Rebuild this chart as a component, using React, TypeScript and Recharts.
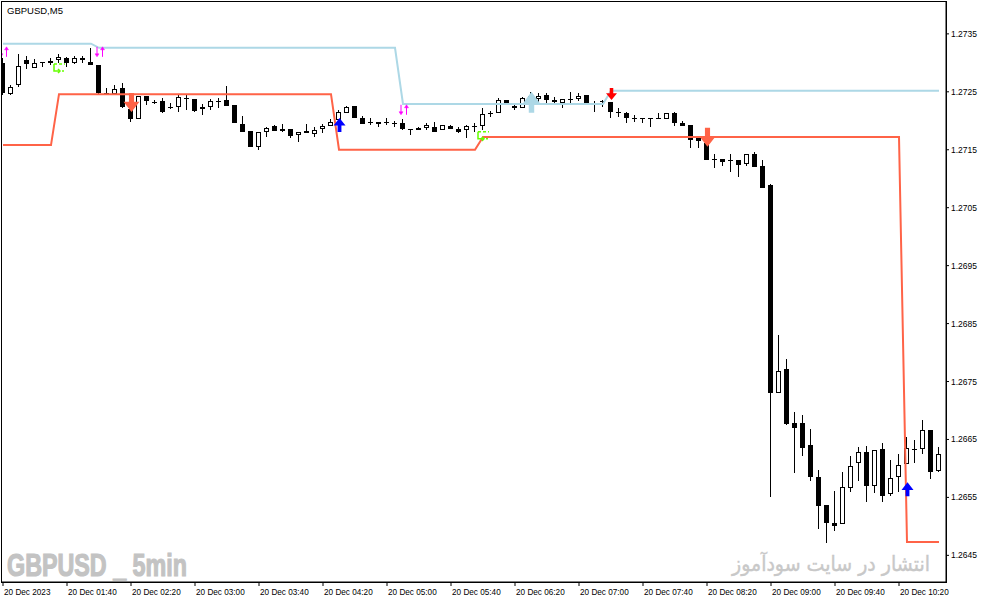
import React from "react";
import {
  ComposedChart,
  Bar,
  Line,
  Scatter,
  XAxis,
  YAxis,
} from "recharts";

// 5-minute candles, 20 Dec 01:00 .. 10:45 (index 0 = 01:00)
const opens = [
  1.273, 1.27246, 1.27262, 1.27305, 1.27291, 1.27302, 1.27303, 1.27305, 1.27309, 1.273,
  1.27309, 1.27302, 1.27296, 1.27248, 1.27246, 1.27257, 1.2722, 1.27203, 1.27243, 1.27233,
  1.27234, 1.27224, 1.27224, 1.27239, 1.27238, 1.2722, 1.27224, 1.27234, 1.27236, 1.27227,
  1.27195, 1.27182, 1.27155, 1.27181, 1.27191, 1.27186, 1.27186, 1.27176, 1.27182, 1.27177,
  1.27186, 1.27191, 1.27201, 1.27214, 1.27226, 1.27205, 1.27198, 1.27198, 1.27198, 1.27196,
  1.27196, 1.27186, 1.27188, 1.27188, 1.27189, 1.27184, 1.27191, 1.27186, 1.27184, 1.27191,
  1.27191, 1.27214, 1.27214, 1.27236, 1.27226, 1.27222, 1.27243, 1.27238, 1.27245, 1.27236,
  1.27231, 1.27238, 1.27238, 1.27245, 1.27229, 1.27233, 1.27233, 1.27215, 1.27214, 1.27205,
  1.27205, 1.27203, 1.27205, 1.27203, 1.27214, 1.27196, 1.27193, 1.2717, 1.27162, 1.27134,
  1.27134, 1.27132, 1.27132, 1.27125, 1.27143, 1.27122, 1.27089, 1.2673, 1.26771, 1.26678,
  1.26678, 1.2664, 1.26585, 1.26537, 1.26506, 1.26504, 1.26566, 1.26609, 1.26628, 1.26569,
  1.26633, 1.26556, 1.26585, 1.26607, 1.26632, 1.26633, 1.26666, 1.26595,
];
const highs = [
  1.27309, 1.27262, 1.27315, 1.27312, 1.27307, 1.27302, 1.27309, 1.27315, 1.2731, 1.27312,
  1.27312, 1.27326, 1.27296, 1.27257, 1.27262, 1.27265, 1.27222, 1.27243, 1.27243, 1.27236,
  1.27239, 1.27231, 1.27245, 1.27245, 1.27238, 1.27229, 1.27238, 1.27239, 1.2726, 1.27227,
  1.27208, 1.27182, 1.27181, 1.27189, 1.27193, 1.27195, 1.27186, 1.27181, 1.27195, 1.27189,
  1.27195, 1.27203, 1.27219, 1.27226, 1.27226, 1.27208, 1.27205, 1.27198, 1.27205, 1.272,
  1.27203, 1.27186, 1.27189, 1.27196, 1.27198, 1.27193, 1.27193, 1.27189, 1.27193, 1.27196,
  1.27222, 1.27217, 1.27239, 1.27236, 1.27231, 1.27241, 1.2725, 1.27248, 1.27248, 1.27241,
  1.27238, 1.2725, 1.27248, 1.27245, 1.27234, 1.27236, 1.27233, 1.27222, 1.27215, 1.2721,
  1.27205, 1.27205, 1.27214, 1.27214, 1.27215, 1.272, 1.27193, 1.27174, 1.27165, 1.27143,
  1.27134, 1.27143, 1.27132, 1.27143, 1.27146, 1.27132, 1.27091, 1.2683, 1.26789, 1.26697,
  1.26692, 1.26668, 1.26597, 1.26537, 1.26561, 1.26594, 1.26621, 1.26637, 1.26638, 1.26632,
  1.26644, 1.26614, 1.26625, 1.26654, 1.26649, 1.26683, 1.26666, 1.26637,
];
const lows = [
  1.27245, 1.27245, 1.27258, 1.2729, 1.27291, 1.27293, 1.27296, 1.273, 1.27293, 1.27298,
  1.273, 1.27296, 1.27246, 1.27245, 1.27246, 1.27222, 1.27198, 1.27203, 1.27227, 1.27229,
  1.27214, 1.2722, 1.27215, 1.27219, 1.27215, 1.2721, 1.27219, 1.27222, 1.27226, 1.27196,
  1.27181, 1.27155, 1.2715, 1.27172, 1.27182, 1.27181, 1.2717, 1.27163, 1.27179, 1.27172,
  1.27179, 1.27191, 1.27196, 1.27214, 1.27205, 1.27195, 1.27193, 1.27189, 1.27193, 1.27189,
  1.27184, 1.27176, 1.27184, 1.27184, 1.27181, 1.27184, 1.27186, 1.27179, 1.2717, 1.27181,
  1.27184, 1.27207, 1.27214, 1.27227, 1.27219, 1.27222, 1.27238, 1.27233, 1.27231, 1.27231,
  1.27222, 1.27227, 1.27234, 1.27229, 1.27215, 1.27224, 1.27205, 1.27207, 1.27196, 1.27198,
  1.27196, 1.27189, 1.27205, 1.27203, 1.27191, 1.27191, 1.27153, 1.27153, 1.27132, 1.27119,
  1.27122, 1.27112, 1.27103, 1.27122, 1.2712, 1.27084, 1.2655, 1.2673, 1.26675, 1.26592,
  1.26621, 1.26578, 1.26495, 1.26471, 1.26492, 1.26504, 1.26559, 1.26578, 1.26542, 1.26557,
  1.26542, 1.26552, 1.26559, 1.26607, 1.26609, 1.26625, 1.26581, 1.26594,
];
const closes = [
  1.27248, 1.27258, 1.27295, 1.27298, 1.273, 1.27302, 1.273, 1.2731, 1.273, 1.27309,
  1.27305, 1.27296, 1.27248, 1.27248, 1.27255, 1.27224, 1.27203, 1.27243, 1.27234, 1.27233,
  1.27215, 1.27224, 1.27241, 1.27239, 1.27217, 1.27224, 1.27234, 1.27234, 1.27226, 1.27196,
  1.27181, 1.27155, 1.27181, 1.27188, 1.27182, 1.27182, 1.27174, 1.27181, 1.27179, 1.27184,
  1.27191, 1.27198, 1.27215, 1.27224, 1.27205, 1.27195, 1.27198, 1.27195, 1.27196, 1.27196,
  1.27186, 1.27186, 1.27184, 1.27193, 1.27181, 1.27193, 1.27186, 1.27181, 1.27191, 1.27191,
  1.27212, 1.27214, 1.27236, 1.27227, 1.27222, 1.27239, 1.27243, 1.27243, 1.27236, 1.27233,
  1.27238, 1.27238, 1.27243, 1.27229, 1.27229, 1.27234, 1.27215, 1.27215, 1.27205, 1.27205,
  1.27205, 1.27205, 1.27205, 1.27214, 1.27196, 1.27191, 1.27167, 1.27165, 1.27132, 1.27134,
  1.27129, 1.27132, 1.27124, 1.27143, 1.2712, 1.27084, 1.2673, 1.26768, 1.26677, 1.2667,
  1.26635, 1.26585, 1.26535, 1.26506, 1.265, 1.26568, 1.26604, 1.26628, 1.26569, 1.26632,
  1.26552, 1.26583, 1.26606, 1.26635, 1.26633, 1.26666, 1.26594, 1.26625,
];

// indicator lines: vertices where the level changes
const upperLine = [
  { i: 0, p: 1.27333 }, { i: 11, p: 1.27333 }, { i: 12, p: 1.27326 }, { i: 49, p: 1.27326 },
  { i: 50, p: 1.27229 }, { i: 75, p: 1.27229 }, { i: 76, p: 1.27252 }, { i: 117, p: 1.27252 },
];
const lowerLine = [
  { i: 0, p: 1.27158 }, { i: 6, p: 1.27158 }, { i: 7, p: 1.27246 }, { i: 41, p: 1.27246 },
  { i: 42, p: 1.2715 }, { i: 59, p: 1.2715 }, { i: 60, p: 1.27172 }, { i: 112, p: 1.27172 },
  { i: 113, p: 1.26473 }, { i: 117, p: 1.26473 },
];

// signal markers
const sellArrows = [{ i: 16, p: 1.27215 }, { i: 88, p: 1.27155 }];
const buyArrows = [{ i: 42, p: 1.27205 }, { i: 113, p: 1.26576 }];
const upperBuyArrows = [{ i: 66, p: 1.2725 }];
const upperSellArrows = [{ i: 76, p: 1.27236 }];
const swapMarks = [{ i: 0, p: 1.27319 }, { i: 12, p: 1.27319 }, { i: 50, p: 1.27219 }];
const greenMarks = [{ i: 7, p: 1.27291 }, { i: 60, p: 1.27174 }];

const xTicks = [0, 8, 16, 24, 32, 40, 48, 56, 64, 72, 80, 88, 96, 104, 112];
const timeLabels = [
  "20 Dec 2023", "20 Dec 01:40", "20 Dec 02:20", "20 Dec 03:00", "20 Dec 03:40",
  "20 Dec 04:20", "20 Dec 05:00", "20 Dec 05:40", "20 Dec 06:20", "20 Dec 07:00",
  "20 Dec 07:40", "20 Dec 08:20", "20 Dec 09:00", "20 Dec 09:40", "20 Dec 10:20",
];
const yTicks = [1.2645, 1.2655, 1.2665, 1.2675, 1.2685, 1.2695, 1.2705, 1.2715, 1.2725, 1.2735];

const candles = opens.map((o, i) => ({ i, o, h: highs[i], l: lows[i], c: closes[i] }));

const FONT = "'Liberation Sans', Arial, sans-serif";

function Candle(props: any) {
  const { x, y, width, height, payload } = props;
  const { o, h, l, c } = payload;
  const top = Math.min(y, y + height);
  const bot = Math.max(y, y + height);
  const span = h - l;
  const py = (v: number) => (span > 0 ? top + ((h - v) / span) * (bot - top) : top);
  const cx = Math.floor(x + width / 2);
  const bTop = Math.round(py(Math.max(o, c)));
  const bBot = Math.round(py(Math.min(o, c)));
  const wTop = Math.round(top);
  const wBot = Math.round(bot);
  let body;
  if (bBot - bTop <= 1) {
    body = <rect x={cx - 2} y={bTop} width={5} height={1} fill="#000" />;
  } else if (c > o) {
    body = (
      <rect x={cx - 1.5} y={bTop + 0.5} width={4} height={bBot - bTop - 1} fill="#fff" stroke="#000" strokeWidth={1} />
    );
  } else {
    body = <rect x={cx - 2} y={bTop} width={5} height={bBot - bTop} fill="#000" />;
  }
  return (
    <g>
      <rect x={cx} y={wTop} width={1} height={Math.max(1, wBot - wTop)} fill="#000" />
      {body}
    </g>
  );
}

// block arrow, tip at (cx, ty)
function arrowPoints(cx: number, ty: number, up: boolean, w: number, h: number) {
  const s = up ? 1 : -1;
  const hh = h * 0.55;
  const sw = w * 0.32;
  const pts = [
    [cx, ty],
    [cx + w / 2, ty + s * hh],
    [cx + sw / 2, ty + s * hh],
    [cx + sw / 2, ty + s * h],
    [cx - sw / 2, ty + s * h],
    [cx - sw / 2, ty + s * hh],
    [cx - w / 2, ty + s * hh],
  ];
  return pts.map((p) => p.join(",")).join(" ");
}

const makeArrow = (up: boolean, w: number, h: number, color: string) => (props: any) => {
  const { cx, cy } = props;
  return <polygon points={arrowPoints(cx + 0.5, cy, up, w, h)} fill={color} />;
};

function SwapMark(props: any) {
  const { cx, cy } = props;
  const l = cx - 2;
  const r = cx + 3.5;
  return (
    <g stroke="#ff00ff" strokeWidth={1} fill="#ff00ff">
      <line x1={l} y1={cy - 5} x2={l} y2={cy + 3} />
      <polygon points={`${l - 2},${cy + 2} ${l + 2},${cy + 2} ${l},${cy + 5}`} strokeWidth={0.5} />
      <line x1={r} y1={cy - 3} x2={r} y2={cy + 5} />
      <polygon points={`${r - 2},${cy - 2} ${r + 2},${cy - 2} ${r},${cy - 5}`} strokeWidth={0.5} />
    </g>
  );
}

function GreenMark(props: any) {
  const { cx, cy } = props;
  return (
    <g stroke="#66ff00" strokeWidth={1.5} fill="none">
      <line x1={cx - 5} y1={cy - 4} x2={cx + 6} y2={cy - 4} strokeDasharray="3 2" />
      <polyline points={`${cx - 5},${cy - 4} ${cx - 5},${cy + 3} ${cx + 1},${cy + 3}`} />
      <polyline points={`${cx - 1},${cy + 1} ${cx + 1},${cy + 3} ${cx - 1},${cy + 5}`} />
      <line x1={cx + 3} y1={cy + 3} x2={cx + 7} y2={cy + 3} strokeDasharray="2 2" />
    </g>
  );
}

function TimeTick(props: any) {
  const { x, y, payload } = props;
  const idx = xTicks.indexOf(payload.value);
  return (
    <text x={x + 1} y={y + 7} fontSize={8.2} fontFamily={FONT} fill="#000" textAnchor="start">
      {timeLabels[idx]}
    </text>
  );
}

export default function App() {
  return (
    <div style={{ width: 987, height: 605, background: "#fff" }}>
      <style>{"body{margin:0}"}</style>
      <ComposedChart
        width={987}
        height={605}
        data={candles}
        margin={{ top: 2, right: 0, left: 2, bottom: 0 }}
      >
        <rect x={1.5} y={1.5} width={945} height={581} fill="none" stroke="#000" strokeWidth={1} />
        <XAxis
          dataKey="i"
          type="number"
          domain={[-0.125, 117.875]}
          allowDataOverflow
          ticks={xTicks}
          interval={0}
          height={23}
          tickSize={4}
          tickLine={{ stroke: "#000" }}
          axisLine={{ stroke: "#000" }}
          tick={<TimeTick />}
        />
        <YAxis
          orientation="right"
          type="number"
          domain={[1.26404, 1.27405]}
          allowDataOverflow
          ticks={yTicks}
          interval={0}
          width={41}
          tickSize={3}
          tickMargin={2}
          tickLine={{ stroke: "#000" }}
          axisLine={{ stroke: "#000" }}
          tick={{ fontSize: 8.5, fill: "#000", fontFamily: FONT }}
          tickFormatter={(v: number) => v.toFixed(4)}
        />
        <Bar
          dataKey={(d: any) => [d.l, d.h]}
          barSize={5}
          shape={<Candle />}
          isAnimationActive={false}
        />
        <Line
          data={upperLine}
          dataKey="p"
          type="linear"
          stroke="#add8e6"
          strokeWidth={2}
          dot={false}
          activeDot={false}
          isAnimationActive={false}
        />
        <Line
          data={lowerLine}
          dataKey="p"
          type="linear"
          stroke="#ff6347"
          strokeWidth={2}
          dot={false}
          activeDot={false}
          isAnimationActive={false}
        />
        <Scatter data={swapMarks} dataKey="p" shape={<SwapMark />} isAnimationActive={false} />
        <Scatter data={greenMarks} dataKey="p" shape={<GreenMark />} isAnimationActive={false} />
        <Scatter data={sellArrows} dataKey="p" shape={makeArrow(false, 16, 19, "#ff6347")} isAnimationActive={false} />
        <Scatter data={buyArrows} dataKey="p" shape={makeArrow(true, 12, 14, "#0000ff")} isAnimationActive={false} />
        <Scatter data={upperBuyArrows} dataKey="p" shape={makeArrow(true, 17, 21, "#add8e6")} isAnimationActive={false} />
        <Scatter data={upperSellArrows} dataKey="p" shape={makeArrow(false, 11, 12, "#ff0000")} isAnimationActive={false} />
        <text x={7} y={14} fontSize={9.5} fontFamily={FONT} fill="#000">
          GBPUSD,M5
        </text>
        <text
          x={7}
          y={576}
          fontSize={31}
          fontWeight="bold"
          fontFamily="'Liberation Sans Narrow', 'Liberation Sans', sans-serif"
          fill="#c3c3c3"
          stroke="#c3c3c3"
          strokeWidth={1.2}
          textLength={180}
          lengthAdjust="spacingAndGlyphs"
        >
          GBPUSD _ 5min
        </text>
        <text
          x={930}
          y={571}
          fontSize={21}
          fontFamily="'DejaVu Sans', sans-serif"
          fill="#c8c8c8"
          stroke="#c8c8c8"
          strokeWidth={0.4}
          textAnchor="end"
          textLength={198}
          lengthAdjust="spacingAndGlyphs"
        >
          انتشار در سایت سودآموز
        </text>
      </ComposedChart>
    </div>
  );
}
